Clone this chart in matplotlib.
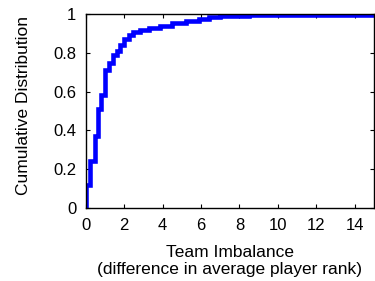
import matplotlib
matplotlib.use('Agg')
import matplotlib.pyplot as plt

# step CDF (x = imbalance, y = cumulative fraction)
imbalance = [0.0, 0.02, 0.23, 0.45, 0.63, 0.8, 1.0, 1.2, 1.4, 1.6, 1.8, 2.0, 2.25,
             2.45, 2.8, 3.3, 3.85, 4.5, 5.2, 5.9, 6.4, 7.0, 8.5, 15.0]
cdf = [0.0, 0.12, 0.24, 0.37, 0.51, 0.58, 0.71, 0.75, 0.79, 0.81, 0.84, 0.87, 0.89,
       0.91, 0.92, 0.93, 0.94, 0.955, 0.965, 0.975, 0.985, 0.99, 0.997, 1.0]

xticks = [0, 2, 4, 6, 8, 10, 12, 14]
yticks = [0, 0.2, 0.4, 0.6, 0.8, 1]
ytick_labels = ['0', '0.2', '0.4', '0.6', '0.8', '1']

plt.rcParams['font.family'] = ['Liberation Sans', 'DejaVu Sans']
fig = plt.figure(figsize=(3.75, 2.81), dpi=100)
ax = fig.add_axes([0.229, 0.26, 0.768, 0.69])

ax.step(imbalance, cdf, where='post', color='#0000ff', lw=3.3, solid_joinstyle='miter')

ax.set_xlim(0, 15)
ax.set_ylim(0, 1)
ax.set_xticks(xticks)
ax.set_yticks(yticks)
ax.set_yticklabels(ytick_labels)
ax.tick_params(direction='in', top=True, right=True, length=3, width=0.8,
               labelsize=12, pad=7)
for s in ax.spines.values():
    s.set_linewidth(1.0)

ax.set_xlabel('Team Imbalance\n(difference in average player rank)', fontsize=12.5,
              linespacing=1.15, labelpad=9)
ax.set_ylabel('Cumulative Distribution', fontsize=12.5)
ax.yaxis.set_label_coords(-0.19, 0.53)

fig.savefig('out.png', dpi=100)
